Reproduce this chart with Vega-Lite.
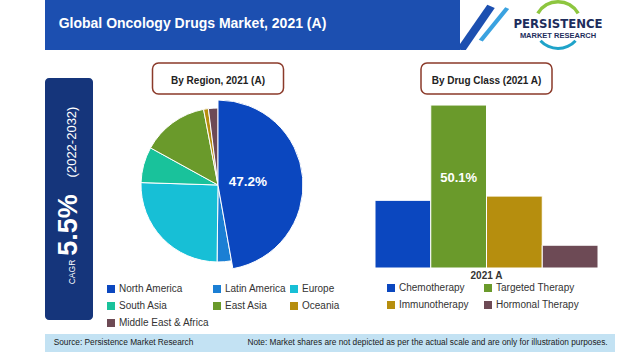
{
  "$schema": "https://vega.github.io/schema/vega-lite/v6.json",
  "background": "white",
  "padding": {"left": 45, "top": 0, "right": 0, "bottom": 0},
  "autosize": {"type": "pad"},
  "config": {"view": {"stroke": null}, "font": "Liberation Sans", "concat": {"spacing": 0}},
  "spacing": 0,
  "bounds": "full",
  "resolve": {"scale": {"color": "independent"}, "legend": {"color": "independent"}},
  "vconcat": [
    {
      "spacing": 0,
      "bounds": "flush",
      "hconcat": [
        {
          "width": 295, "height": 50,
          "view": {"fill": "#1c4fb0", "stroke": null},
          "data": {"values": [{"title": "Global Oncology Drugs Market, 2021 (A)"}]},
          "mark": {"type": "text", "fontSize": 14, "fontWeight": "bold", "fill": "white", "baseline": "middle", "dy": -1},
          "encoding": {"text": {"field": "title", "type": "nominal"}}
        },
        {
          "width": 120, "height": 50,
          "view": {"fill": "#1c4fb0", "stroke": null},
          "data": {"values": [{}]},
          "mark": {"type": "text", "text": ""}
        },
        {
          "width": 58, "height": 50,
          "data": {"values": [{}]},
          "layer": [
            {"mark": {"type": "text", "text": "/", "clip": true, "fontSize": 70, "fontWeight": "bold", "fill": "#1c4fb0", "angle": 24, "baseline": "middle", "dx": -10.7, "dy": 11.9}},
            {"mark": {"type": "text", "text": "/", "clip": true, "fontSize": 55, "fill": "#3aa2e0", "angle": 24, "baseline": "middle", "dx": 4.2, "dy": 0.1}}
          ]
        },
        {
          "width": 80, "height": 50,
          "data": {"values": [{"brand": "PERSISTENCE", "sub": "MARKET RESEARCH"}]},
          "layer": [
            {"mark": {"type": "arc", "theta": -1.05, "theta2": 1.05, "radius": 25, "radius2": 21.5, "fill": "#8dc63f"}, "encoding": {}},
            {"mark": {"type": "arc", "theta": 2.3, "theta2": 3.98, "radius": 25, "radius2": 22, "fill": "#1fa3c9"}, "encoding": {}},
            {"mark": {"type": "text", "font": "'Liberation Sans Narrow', 'DejaVu Sans Condensed', 'Liberation Sans', sans-serif", "fontWeight": "bold", "fontSize": 13, "fill": "#1d2d5c", "baseline": "middle", "dy": -1}, "encoding": {"text": {"field": "brand", "type": "nominal"}}},
            {"mark": {"type": "text", "fontWeight": "bold", "fontSize": 7.5, "fill": "#1d2d5c", "baseline": "middle", "dy": 11}, "encoding": {"text": {"field": "sub", "type": "nominal"}}}
          ]
        }
      ]
    },
    {
      "spacing": 0,
      "bounds": "full",
      "resolve": {"scale": {"color": "independent"}, "legend": {"color": "independent"}},
      "hconcat": [
        {
          "spacing": 0,
          "bounds": "flush",
          "vconcat": [
            {"width": 48, "height": 27, "data": {"values": [{}]}, "mark": {"type": "text", "text": ""}},
            {
              "width": 48, "height": 242,
              "view": {"fill": "#15357b", "stroke": null, "cornerRadius": 4},
              "data": {"values": [{"metric": "CAGR", "cagr": 0.055, "period": "(2022-2032)"}]},
              "layer": [
                {"mark": {"type": "text", "angle": 270, "fontSize": 8.5, "fill": "white", "baseline": "middle", "dx": -73, "dy": 3}, "encoding": {"text": {"field": "metric", "type": "nominal"}}},
                {"mark": {"type": "text", "angle": 270, "fontSize": 27, "fontWeight": "bold", "fill": "white", "baseline": "middle", "dx": -26}, "encoding": {"text": {"field": "cagr", "type": "quantitative", "format": ".1%"}}},
                {"mark": {"type": "text", "angle": 270, "fontSize": 13, "fill": "white", "baseline": "middle", "dx": 57, "dy": 3}, "encoding": {"text": {"field": "period", "type": "nominal"}}}
              ]
            },
            {"width": 48, "height": 14, "data": {"values": [{}]}, "mark": {"type": "text", "text": ""}}
          ]
        },
        {"width": 13, "height": 10, "data": {"values": [{}]}, "mark": {"type": "text", "text": ""}},
        {
          "spacing": 0,
          "bounds": "flush",
          "center": true,
          "resolve": {"scale": {"color": "independent"}, "legend": {"color": "independent"}},
          "vconcat": [
            {"width": 224, "height": 12, "data": {"values": [{}]}, "mark": {"type": "text", "text": ""}},
            {
              "width": 131, "height": 31,
              "view": {"fill": "white", "stroke": "#8b3a2a", "strokeWidth": 1.5, "cornerRadius": 6},
              "data": {"values": [{"label": "By Region, 2021 (A)"}]},
              "mark": {"type": "text", "fontWeight": "bold", "fontSize": 10, "fill": "#222222", "baseline": "middle", "dy": 2},
              "encoding": {"text": {"field": "label", "type": "nominal"}}
            },
            {
              "width": 224, "height": 182,
              "data": {"values": [
                {"region": "North America", "share": 0.472, "rank": 1},
                {"region": "Latin America", "share": 0.030, "rank": 2},
                {"region": "Europe", "share": 0.253, "rank": 3},
                {"region": "South Asia", "share": 0.075, "rank": 4},
                {"region": "East Asia", "share": 0.140, "rank": 5},
                {"region": "Oceania", "share": 0.010, "rank": 6},
                {"region": "Middle East & Africa", "share": 0.020, "rank": 7}
              ]},
              "encoding": {
                "theta": {"field": "share", "type": "quantitative", "stack": true},
                "order": {"field": "rank", "type": "quantitative"},
                "color": {
                  "field": "region", "type": "nominal",
                  "scale": {
                    "domain": ["North America", "Latin America", "Europe", "South Asia", "East Asia", "Oceania", "Middle East & Africa"],
                    "range": ["#0b47bf", "#1b7fd4", "#17bfd6", "#19c29b", "#6a9a2b", "#b68e0e", "#6d4a55"]
                  },
                  "legend": {
                    "title": null, "orient": "none", "legendX": 0, "legendY": 190,
                    "direction": "horizontal", "columns": 3,
                    "symbolType": "square", "symbolSize": 64, "symbolStrokeWidth": 0,
                    "labelFontSize": 10, "labelColor": "#333333", "labelOffset": 3,
                    "columnPadding": 2, "rowPadding": 7, "padding": 0, "labelLimit": 200
                  }
                }
              },
              "layer": [
                {"mark": {"type": "arc", "radius": 77, "stroke": "white", "strokeWidth": 1}},
                {
                  "mark": {"type": "arc", "radius": 85, "stroke": "white", "strokeWidth": 1},
                  "encoding": {"opacity": {"condition": {"test": "datum.region === 'North America'", "value": 1}, "value": 0}}
                },
                {
                  "mark": {"type": "text", "radius": 30, "fontSize": 13.5, "fontWeight": "bold", "baseline": "middle"},
                  "encoding": {
                    "fill": {"value": "white"},
                    "text": {"condition": {"test": "datum.region === 'North America'", "field": "share", "type": "quantitative", "format": ".1%"}, "value": ""}
                  }
                }
              ]
            }
          ]
        },
        {"width": 34, "height": 10, "data": {"values": [{}]}, "mark": {"type": "text", "text": ""}},
        {
          "spacing": 0,
          "bounds": "flush",
          "center": true,
          "resolve": {"scale": {"color": "independent"}, "legend": {"color": "independent"}},
          "vconcat": [
            {"width": 223, "height": 12, "data": {"values": [{}]}, "mark": {"type": "text", "text": ""}},
            {
              "width": 131, "height": 31,
              "view": {"fill": "white", "stroke": "#8b3a2a", "strokeWidth": 1.5, "cornerRadius": 6},
              "data": {"values": [{"label": "By Drug Class (2021 A)"}]},
              "mark": {"type": "text", "fontWeight": "bold", "fontSize": 10, "fill": "#222222", "baseline": "middle", "dy": 2},
              "encoding": {"text": {"field": "label", "type": "nominal"}}
            },
            {
              "width": 223, "height": 174,
              "data": {"values": [
                {"year": "2021 A", "class": "Chemotherapy", "share": 0.208},
                {"year": "2021 A", "class": "Targeted Therapy", "share": 0.501},
                {"year": "2021 A", "class": "Immunotherapy", "share": 0.221},
                {"year": "2021 A", "class": "Hormonal Therapy", "share": 0.070}
              ]},
              "encoding": {
                "x": {
                  "field": "year", "type": "nominal",
                  "scale": {"paddingInner": 0, "paddingOuter": 0},
                  "axis": {"title": null, "labelAngle": 0, "ticks": false, "domain": false, "labelFontSize": 10, "labelFontWeight": "bold", "labelColor": "#333333", "labelPadding": 2}
                },
                "xOffset": {
                  "field": "class", "type": "nominal",
                  "scale": {"domain": ["Chemotherapy", "Targeted Therapy", "Immunotherapy", "Hormonal Therapy"], "paddingInner": 0, "paddingOuter": 0}
                },
                "y": {"field": "share", "type": "quantitative", "scale": {"domain": [0, 0.535], "nice": false, "zero": true}, "axis": null},
                "color": {
                  "field": "class", "type": "nominal",
                  "scale": {
                    "domain": ["Chemotherapy", "Targeted Therapy", "Immunotherapy", "Hormonal Therapy"],
                    "range": ["#0b47bf", "#6a9a2b", "#b68e0e", "#6d4a55"]
                  },
                  "legend": {
                    "title": null, "orient": "none", "legendX": 11, "legendY": 189,
                    "direction": "horizontal", "columns": 2,
                    "symbolType": "square", "symbolSize": 64, "symbolStrokeWidth": 0,
                    "labelFontSize": 10, "labelColor": "#333333", "labelOffset": 3,
                    "columnPadding": 14, "rowPadding": 7, "padding": 0, "labelLimit": 200
                  }
                }
              },
              "layer": [
                {"mark": {"type": "bar", "stroke": "white", "strokeWidth": 1}},
                {
                  "mark": {"type": "text", "fontSize": 13, "fontWeight": "bold", "baseline": "middle", "dy": 73},
                  "encoding": {
                    "fill": {"value": "white"},
                    "text": {"condition": {"test": "datum['class'] === 'Targeted Therapy'", "field": "share", "type": "quantitative", "format": ".1%"}, "value": ""}
                  }
                }
              ]
            }
          ]
        }
      ]
    },
    {
      "spacing": 0,
      "bounds": "flush",
      "hconcat": [
        {
          "width": 157, "height": 18,
          "view": {"fill": "#c3e2f3", "stroke": null},
          "data": {"values": [{"source": "Source: Persistence Market Research"}]},
          "mark": {"type": "text", "fontSize": 8.3, "fill": "#1a1a1a", "baseline": "middle"},
          "encoding": {"text": {"field": "source", "type": "nominal"}}
        },
        {
          "width": 38, "height": 18,
          "view": {"fill": "#c3e2f3", "stroke": null},
          "data": {"values": [{}]},
          "mark": {"type": "text", "text": ""}
        },
        {
          "width": 375, "height": 18,
          "view": {"fill": "#c3e2f3", "stroke": null},
          "data": {"values": [{"note": "Note: Market shares are not depicted as per the actual scale and are only for illustration purposes."}]},
          "mark": {"type": "text", "fontSize": 8.3, "fill": "#1a1a1a", "baseline": "middle"},
          "encoding": {"text": {"field": "note", "type": "nominal"}}
        }
      ]
    }
  ]
}
